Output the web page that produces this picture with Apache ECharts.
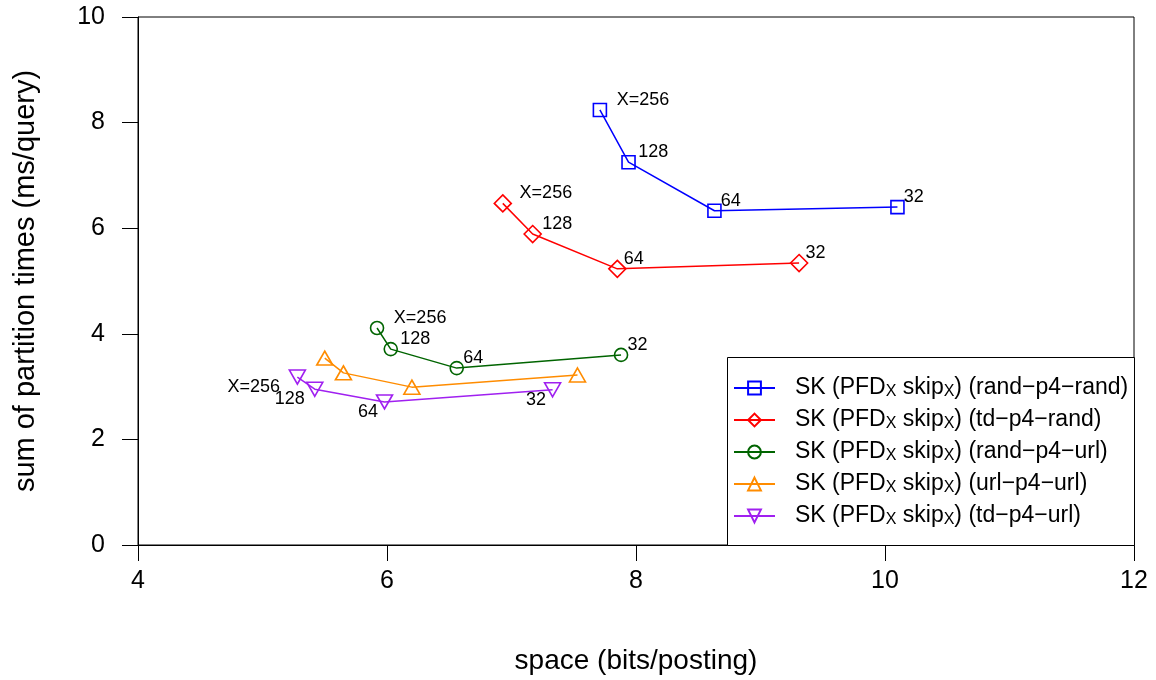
<!DOCTYPE html>
<html>
<head>
<meta charset="utf-8">
<script src="https://cdn.jsdelivr.net/npm/echarts@6/dist/echarts.min.js"></script>
<style>
  html, body { margin: 0; padding: 0; background: #fff; }
  #chart { width: 1156px; height: 680px; }
</style>
</head>
<body>
<div id="chart"></div>
<script>
// Block sizes shown next to each configuration point
const blockLabels = ['X=256', '128', '64', '32'];

// Index layouts (legend suffixes)
const layoutNames = ['rand−p4−rand', 'td−p4−rand', 'rand−p4−url', 'url−p4−url', 'td−p4−url'];

// space (bits/posting) and sum of partition times (ms/query), X = 256, 128, 64, 32
const randRandSpace = [7.71, 7.94, 8.63, 10.10];
const randRandTime  = [8.24, 7.25, 6.33, 6.40];
const tdRandSpace   = [6.93, 7.17, 7.85, 9.31];
const tdRandTime    = [6.47, 5.89, 5.23, 5.34];
const randUrlSpace  = [5.92, 6.03, 6.56, 7.88];
const randUrlTime   = [4.11, 3.71, 3.35, 3.60];
const urlUrlSpace   = [5.50, 5.65, 6.20, 7.53];
const urlUrlTime    = [3.54, 3.26, 2.99, 3.22];
const tdUrlSpace    = [5.28, 5.42, 5.98, 7.33];
const tdUrlTime     = [3.18, 2.95, 2.71, 2.94];

const FONT = '"Liberation Sans", Arial, Helvetica, sans-serif';
const LABEL_SIZE = 18;

const measureCtx = document.createElement('canvas').getContext('2d');
measureCtx.font = LABEL_SIZE + 'px ' + FONT;
const textWidth = s => measureCtx.measureText(s).width;

const styles = [
  { color: '#0000FF', symbol: 'rect', size: 13, labels: 'upper' },
  { color: '#FF0000', symbol: 'path://M0,-1L1,0L0,1L-1,0Z', size: 17, labels: 'upper' },
  { color: '#006400', symbol: 'circle', size: 13, labels: 'upper' },
  { color: '#FF8C00', symbol: 'path://M0,-1L0.866,0.5L-0.866,0.5Z', size: [16, 14], labels: null },
  { color: '#A020F0', symbol: 'path://M0,1L0.866,-0.5L-0.866,-0.5Z', size: [16, 14], labels: 'lower' }
];

const spaces = [randRandSpace, tdRandSpace, randUrlSpace, urlUrlSpace, tdUrlSpace];
const times  = [randRandTime, tdRandTime, randUrlTime, urlUrlTime, tdUrlTime];

function pointLabel(mode, text) {
  if (!mode) return { show: false };
  const w = textWidth(text);
  const upper = mode === 'upper';
  return {
    show: true,
    formatter: text,
    position: 'inside',
    align: upper ? 'left' : 'right',
    verticalAlign: 'middle',
    offset: upper ? [0.32 * w, -10] : [-0.33 * w, 10],
    fontSize: LABEL_SIZE,
    fontFamily: FONT,
    color: '#000'
  };
}

const series = layoutNames.map((name, s) => ({
  name: name,
  type: 'line',
  symbol: styles[s].symbol,
  symbolSize: styles[s].size,
  symbolKeepAspect: false,
  showAllSymbol: true,
  animation: false,
  z: 5,
  lineStyle: { color: styles[s].color, width: 1.5 },
  itemStyle: { color: 'rgba(255,255,255,0)', borderColor: styles[s].color, borderWidth: 1.6 },
  emphasis: { disabled: true },
  data: spaces[s].map((x, i) => ({
    value: [x, times[s][i]],
    label: pointLabel(styles[s].labels, blockLabels[i])
  }))
}));

const chart = echarts.init(document.getElementById('chart'), null, { renderer: 'canvas' });

chart.setOption({
  backgroundColor: '#fff',
  animation: false,
  textStyle: { fontFamily: FONT },
  grid: {
    left: 138, right: 22, top: 17, bottom: 135,
    show: true, borderColor: '#000', borderWidth: 1, backgroundColor: 'transparent'
  },
  xAxis: {
    type: 'value', min: 4, max: 12, interval: 2,
    name: 'space (bits/posting)', nameLocation: 'middle', nameGap: 102,
    nameTextStyle: { fontSize: 28, color: '#000', fontFamily: FONT },
    axisLine: { show: true, onZero: false, lineStyle: { color: '#000', width: 1 } },
    axisTick: { show: true, length: 16, lineStyle: { color: '#000', width: 1 } },
    axisLabel: { margin: 24, fontSize: 25, color: '#000', fontFamily: FONT },
    splitLine: { show: false }
  },
  yAxis: {
    type: 'value', min: 0, max: 10, interval: 2,
    name: 'sum of partition times (ms/query)', nameLocation: 'middle', nameGap: 98,
    nameTextStyle: { fontSize: 29, color: '#000', fontFamily: FONT },
    axisLine: { show: true, onZero: false, lineStyle: { color: '#000', width: 1 } },
    axisTick: { show: true, length: 16, lineStyle: { color: '#000', width: 1 } },
    axisLabel: { margin: 33, fontSize: 25, color: '#000', fontFamily: FONT },
    splitLine: { show: false }
  },
  graphic: [{
    type: 'rect', left: 727, top: 357, z: 3, silent: true,
    shape: { width: 407, height: 188 },
    style: { fill: '#fff', stroke: '#000', lineWidth: 1 }
  }],
  legend: {
    orient: 'vertical', left: 733, top: 376, z: 10,
    padding: 0, itemGap: 5, itemWidth: 41, itemHeight: 16,
    selectedMode: false,
    data: layoutNames,
    formatter: name => '{a|SK (PFD}{s|X}{a| skip}{s|X}{a|) (' + name + ')}',
    textStyle: {
      color: '#000', fontSize: 23, fontFamily: FONT, padding: [0, 0, 0, 15],
      rich: {
        a: { fontSize: 23, lineHeight: 24, verticalAlign: 'top', padding: [0, 0, 4, 0], color: '#000', fontFamily: FONT },
        s: { fontSize: 16, lineHeight: 16, verticalAlign: 'bottom', color: '#000', fontFamily: FONT }
      }
    }
  },
  series: series
});
</script>
</body>
</html>
